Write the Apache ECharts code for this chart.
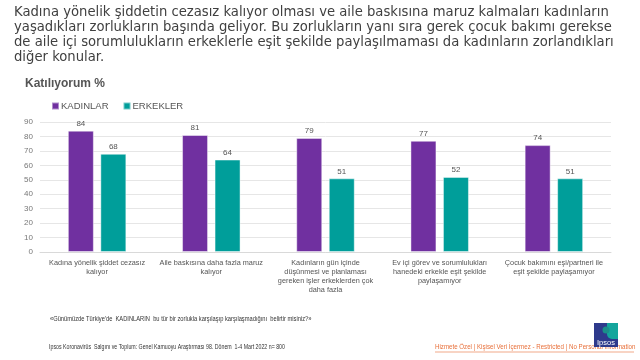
<!DOCTYPE html>
<html><head><meta charset="utf-8">
<script src="https://cdn.jsdelivr.net/npm/echarts@6/dist/echarts.min.js"></script>
<style>html,body{margin:0;padding:0;background:#fff}#c{width:640px;height:360px}</style>
</head><body><div id="c"></div>
<script>
var categories = [
  "Kadına yönelik şiddet cezasız\nkalıyor",
  "Aile baskısına daha fazla maruz\nkalıyor",
  "Kadınların gün içinde\ndüşünmesi ve planlaması\ngereken işler erkeklerden çok\ndaha fazla",
  "Ev içi görev ve sorumlulukları\nhanedeki erkekle eşit şekilde\npaylaşamıyor",
  "Çocuk bakımını eşi/partneri ile\neşit şekilde paylaşamıyor"
];
var kadinlar = [84, 81, 79, 77, 74];
var erkekler = [68, 64, 51, 52, 51];
var seriesNames = ["KADINLAR", "ERKEKLER"];
var yTicks = [0, 10, 20, 30, 40, 50, 60, 70, 80, 90];

var titleText = "Kadına yönelik şiddetin cezasız kalıyor olması ve aile baskısına maruz kalmaları kadınların\nyaşadıkları zorlukların başında geliyor. Bu zorlukların yanı sıra gerek çocuk bakımı gerekse\nde aile içi sorumlulukların erkeklerle eşit şekilde paylaşılmaması da kadınların zorlandıkları\ndiğer konular.";
var questionText = "«Günümüzde Türkiye'de  KADINLARIN  bu tür bir zorlukla karşılaşıp karşılaşmadığını  belirtir misiniz?»";
var sourceText = "Ipsos Koronavirüs  Salgını ve Toplum: Genel Kamuoyu Araştırması 98. Dönem  1-4 Mart 2022 n= 800";
var classText = "Hizmete Özel | Kişisel Veri İçermez - Restricted | No Personal Information";

var chart = echarts.init(document.getElementById('c'), null, {renderer: 'canvas'});
var ff = "Liberation Sans, Arial, sans-serif";
chart.setOption({
  animation: false,
  textStyle: {fontFamily: ff},
  title: [
    {text: titleText, left: 14, top: 5, padding: 0, textStyle: {fontSize: 13.2, fontWeight: 'normal', color: '#404040', lineHeight: 15, fontFamily: "DejaVu Sans, sans-serif"}},
    {text: "Katılıyorum %", left: 25, top: 78, padding: 0, textStyle: {fontSize: 12, fontWeight: 'bold', color: '#555', fontFamily: ff}}
  ],
  legend: {
    data: seriesNames, left: 46, top: 96, itemWidth: 7, itemHeight: 7, itemGap: 14, icon: 'rect',
    textStyle: {fontSize: 9.5, color: '#555', padding: [0, 0, 0, -3]}
  },
  grid: {left: 40, right: 29, top: 122, bottom: 108, containLabel: false},
  xAxis: {
    type: 'category', data: categories,
    axisLine: {lineStyle: {color: '#d9d9d9'}},
    axisTick: {show: false},
    axisLabel: {interval: 0, fontSize: 7.3, color: '#555', lineHeight: 9, margin: 6}
  },
  yAxis: {
    type: 'value', min: 0, max: 90, interval: 10,
    axisLabel: {fontSize: 8, color: '#777', margin: 7},
    axisLine: {show: false}, axisTick: {show: false},
    splitLine: {lineStyle: {color: '#e6e6e6'}}
  },
  series: [
    {name: seriesNames[0], type: 'bar', data: kadinlar, barWidth: 26, barGap: '25%',
     itemStyle: {color: '#7030A0', borderColor: 'rgba(255,255,255,0.45)', borderWidth: 1},
     label: {show: true, position: 'top', fontSize: 8, color: '#555', distance: 3}},
    {name: seriesNames[1], type: 'bar', data: erkekler, barWidth: 26,
     itemStyle: {color: '#009E9A', borderColor: 'rgba(255,255,255,0.45)', borderWidth: 1},
     label: {show: true, position: 'top', fontSize: 8, color: '#555', distance: 3}}
  ],
  graphic: [
    {type: 'text', x: 50, y: 316, scaleX: 0.82, style: {text: questionText, fill: '#333', fontSize: 7, fontFamily: ff}},
    {type: 'text', x: 49, y: 344, scaleX: 0.75, style: {text: sourceText, fill: '#333', fontSize: 7, fontFamily: ff}},
    {type: 'text', x: 435, y: 344, scaleX: 0.88, style: {text: classText, fill: '#E8703A', fontSize: 7, fontFamily: ff}},
    {type: 'line', shape: {x1: 435, y1: 352, x2: 634, y2: 352}, style: {stroke: '#E8703A', lineWidth: 0.6}},
    {type: 'rect', shape: {x: 594, y: 323, width: 24, height: 24}, style: {fill: '#2E3A8C'}},
    {type: 'rect', shape: {x: 607, y: 323, width: 11, height: 16, r: [0, 0, 0, 5]}, style: {fill: '#14A59C'}},
    {type: 'circle', shape: {cx: 606, cy: 330, r: 3.5}, style: {fill: '#1a8f8a'}},
    {type: 'text', style: {x: 597, y: 339, text: 'Ipsos', fill: '#fff', fontSize: 7.5, fontFamily: ff}}
  ]
});
</script></body></html>
